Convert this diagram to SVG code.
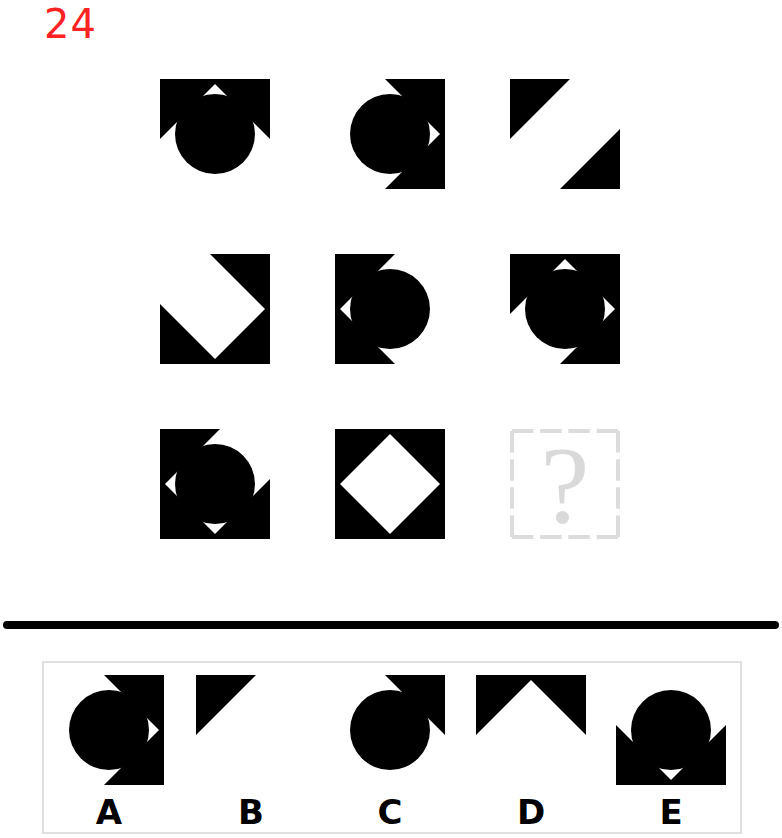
<svg xmlns="http://www.w3.org/2000/svg" xmlns:xlink="http://www.w3.org/1999/xlink" width="782" height="838" viewBox="0 0 782 838">
<style>
.k{fill:#000}
.lbl{font-family:"DejaVu Sans","Liberation Sans",sans-serif;font-weight:bold;font-size:34px;fill:#000;text-anchor:middle}
.dash{stroke:#dcdcdc;stroke-width:4;stroke-dasharray:21.5 6.67;fill:none}
</style>
<defs>
<path id="tl" class="k" d="M0,0H60L0,60Z"/>
<path id="tr" class="k" d="M110,0H50L110,60Z"/>
<path id="br" class="k" d="M110,110V50L50,110Z"/>
<path id="bl" class="k" d="M0,110V50L60,110Z"/>
<circle id="c" class="k" cx="55" cy="55" r="40"/>
</defs>
<rect width="782" height="838" fill="#fff"/>
<text x="44" y="38" font-family="DejaVu Sans,sans-serif" font-size="40" fill="#f22" letter-spacing="1">24</text>

<g id="t11" transform="translate(160,79)"><use xlink:href="#tl"/><use xlink:href="#tr"/><use xlink:href="#c"/></g>
<g id="t12" transform="translate(335,79)"><use xlink:href="#tr"/><use xlink:href="#br"/><use xlink:href="#c"/></g>
<g id="t13" transform="translate(510,79)"><use xlink:href="#tl"/><use xlink:href="#br"/></g>

<g id="t21" transform="translate(160,254)"><use xlink:href="#tr"/><use xlink:href="#bl"/><use xlink:href="#br"/></g>
<g id="t22" transform="translate(335,254)"><use xlink:href="#tl"/><use xlink:href="#bl"/><use xlink:href="#c"/></g>
<g id="t23" transform="translate(510,254)"><use xlink:href="#tl"/><use xlink:href="#tr"/><use xlink:href="#br"/><use xlink:href="#c"/></g>

<g id="t31" transform="translate(160,429)"><use xlink:href="#tl"/><use xlink:href="#bl"/><use xlink:href="#br"/><use xlink:href="#c"/></g>
<g id="t32" transform="translate(335,429)"><use xlink:href="#tl"/><use xlink:href="#tr"/><use xlink:href="#bl"/><use xlink:href="#br"/></g>
<g id="t33" transform="translate(510,429)">
<line class="dash" x1="2" y1="2" x2="108" y2="2"/>
<line class="dash" x1="108" y1="2" x2="108" y2="108"/>
<line class="dash" x1="108" y1="108" x2="2" y2="108"/>
<line class="dash" x1="2" y1="108" x2="2" y2="2"/>
<text x="55" y="93" font-family="Liberation Serif,serif" font-size="110" fill="#d9d9d9" text-anchor="middle">?</text>
</g>

<line x1="7" y1="625" x2="775" y2="625" stroke="#000" stroke-width="8" stroke-linecap="round"/>
<rect x="43" y="662" width="698" height="171" fill="none" stroke="#e0e0e0" stroke-width="2"/>

<g id="optA" transform="translate(54,675)"><use xlink:href="#tr"/><use xlink:href="#br"/><use xlink:href="#c"/></g>
<g id="optB" transform="translate(196,675)"><use xlink:href="#tl"/></g>
<g id="optC" transform="translate(335,675)"><use xlink:href="#tr"/><use xlink:href="#c"/></g>
<g id="optD" transform="translate(476,675)"><use xlink:href="#tl"/><use xlink:href="#tr"/></g>
<g id="optE" transform="translate(616,675)"><use xlink:href="#bl"/><use xlink:href="#br"/><use xlink:href="#c"/></g>

<g id="labels">
<text class="lbl" x="109" y="824">A</text>
<text class="lbl" x="251" y="824">B</text>
<text class="lbl" x="390" y="824">C</text>
<text class="lbl" x="531" y="824">D</text>
<text class="lbl" x="671" y="824">E</text>
</g>
</svg>
